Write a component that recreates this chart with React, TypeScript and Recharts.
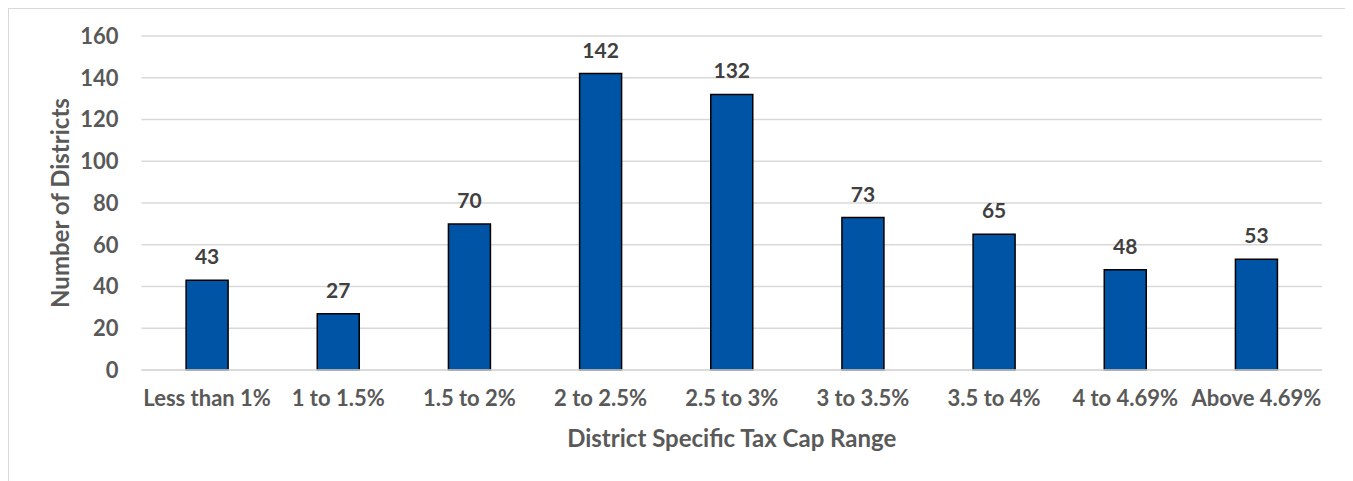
import { BarChart, Bar, XAxis, YAxis, CartesianGrid, LabelList, Label } from "recharts";

const capRanges = [
  "Less than 1%",
  "1 to 1.5%",
  "1.5 to 2%",
  "2 to 2.5%",
  "2.5 to 3%",
  "3 to 3.5%",
  "3.5 to 4%",
  "4 to 4.69%",
  "Above 4.69%",
];
const districtCounts = [43, 27, 70, 142, 132, 73, 65, 48, 53];
const yTicks = [0, 20, 40, 60, 80, 100, 120, 140, 160];

const data = capRanges.map((range, i) => ({ range, districts: districtCounts[i] }));

const FONT = "Lato, 'Open Sans', sans-serif";
const GRAY = "#595959";

const App = () => {
  return (
    <div
      style={{
        width: 1345,
        height: 490,
        border: "1px solid #d9d9d9",
        boxSizing: "border-box",
        background: "#fff",
        fontFamily: FONT,
      }}
    >
      <BarChart
        width={1343}
        height={480}
        data={data}
        margin={{ top: 27, right: 30, left: 0, bottom: 0 }}
        barCategoryGap="34%"
      >
        <CartesianGrid vertical={false} stroke="#d9d9d9" strokeWidth={1.5} />
        <XAxis
          dataKey="range"
          height={119}
          axisLine={{ stroke: "#d9d9d9", strokeWidth: 1.5 }}
          tickLine={false}
          tickSize={0}
          tickMargin={20}
          interval={0}
          tick={{ fill: GRAY, fontSize: 22, fontWeight: 700, fontFamily: FONT }}
        >
          <Label
            content={({ viewBox }: any) => (
              <text
                x={viewBox.x + viewBox.width / 2}
                y={438}
                textAnchor="middle"
                fill={GRAY}
                fontSize={24}
                fontWeight={700}
                fontFamily={FONT}
              >
                District Specific Tax Cap Range
              </text>
            )}
          />
        </XAxis>
        <YAxis
          width={132.5}
          domain={[0, 160]}
          ticks={yTicks}
          axisLine={false}
          tickLine={false}
          tickSize={0}
          tickMargin={23}
          tick={{ fill: GRAY, fontSize: 22, fontWeight: 700, fontFamily: FONT }}
        >
          <Label
            content={({ viewBox }: any) => {
              const cy = viewBox.y + viewBox.height / 2;
              return (
                <text
                  x={50}
                  y={cy}
                  transform={`rotate(-90, 50, ${cy})`}
                  textAnchor="middle"
                  dominantBaseline="central"
                  fill={GRAY}
                  fontSize={24}
                  fontWeight={700}
                  fontFamily={FONT}
                >
                  Number of Districts
                </text>
              );
            }}
          />
        </YAxis>
        <Bar
          dataKey="districts"
          fill="#0054A6"
          stroke="#000"
          strokeWidth={1.5}
          isAnimationActive={false}
        >
          <LabelList
            dataKey="districts"
            position="top"
            offset={16}
            fill="#404040"
            fontSize={21}
            fontWeight={700}
            fontFamily={FONT}
          />
        </Bar>
      </BarChart>
    </div>
  );
};

export default App;
